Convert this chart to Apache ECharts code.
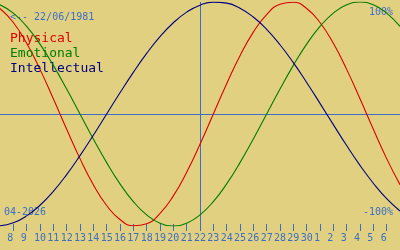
<!DOCTYPE html>
<html>
<head>
<meta charset="utf-8">
<script src="https://cdn.jsdelivr.net/npm/echarts@6/dist/echarts.min.js"></script>
<style>
html,body{margin:0;padding:0;background:#e0d080;}
#chart{width:400px;height:250px;}
</style>
</head>
<body>
<div id="chart"></div>
<script>
// Tick labels: days of month from 7 April 2026 to 7 May 2026
const days = [7,8,9,10,11,12,13,14,15,16,17,18,19,20,21,22,23,24,25,26,27,28,29,30,1,2,3,4,5,6,7];
const months = ['04','04','04','04','04','04','04','04','04','04','04','04','04','04','04','04','04','04','04','04','04','04','04','04','05','05','05','05','05','05','05'];
const markedDay = '04-22';
const birthText = '<-- 22/06/1981';
const monthText = '04-2026';
const seriesNames = ['Physical', 'Emotional', 'Intellectual'];
const seriesColors = ['#dc0000', '#007c00', '#000080'];

const physical = [0.9423,0.8170,0.6311,0.3984,0.1362,-0.1362,-0.3984,-0.6311,-0.8170,-0.9423,-0.9977,-0.9791,-0.8879,-0.7308,-0.5196,-0.2698,0,0.2698,0.5196,0.7308,0.8879,0.9791,0.9977,0.9423,0.8170,0.6311,0.3984,0.1362,-0.1362,-0.3984,-0.6311];
const emotional = [0.9749,0.9010,0.7818,0.6235,0.4339,0.2225,0,-0.2225,-0.4339,-0.6235,-0.7818,-0.9010,-0.9749,-1,-0.9749,-0.9010,-0.7818,-0.6235,-0.4339,-0.2225,0,0.2225,0.4339,0.6235,0.7818,0.9010,0.9749,1,0.9749,0.9010,0.7818];
const intellectual = [-0.9989,-0.9718,-0.9096,-0.8146,-0.6901,-0.5406,-0.3717,-0.1893,0,0.1893,0.3717,0.5406,0.6901,0.8146,0.9096,0.9718,0.9989,0.9898,0.9450,0.8660,0.7557,0.6182,0.4582,0.2817,0.0951,-0.0951,-0.2817,-0.4582,-0.6182,-0.7557,-0.8660];
const yTickLabels = ['100%', '-100%'];

const dates = days.map((d, i) => months[i] + '-' + (d < 10 ? '0' + d : '' + d));
const blue = '#3c6ec8';
const mono = 'DejaVu Sans Mono';
const lastIdx = dates.length - 1;
const inner = (i) => i > 0 && i < lastIdx;

const chart = echarts.init(document.getElementById('chart'), null, {renderer: 'canvas'});
const values = [physical, emotional, intellectual];

chart.setOption({
  animation: false,
  backgroundColor: '#e0d080',
  grid: [
    {left: 0, right: 0, top: 2, bottom: 24},
    {left: 0, right: 0, top: 223, height: 1}
  ],
  legend: {
    orient: 'vertical',
    left: 0,
    top: 27,
    padding: 5,
    icon: 'rect',
    itemWidth: 0,
    itemHeight: 0,
    itemGap: 2,
    selectedMode: false,
    textStyle: {fontFamily: mono, fontSize: 13},
    data: seriesNames.map((n, k) => ({name: n, textStyle: {color: seriesColors[k]}}))
  },
  xAxis: [
    {type: 'category', gridIndex: 0, data: dates, boundaryGap: false, show: false},
    {
      type: 'category', gridIndex: 1, data: dates, boundaryGap: false,
      axisLine: {show: false},
      axisTick: {show: true, length: 7, interval: inner, lineStyle: {color: blue, width: 1}},
      axisLabel: {
        interval: inner, margin: 9, color: blue, fontFamily: mono, fontSize: 10,
        align: 'left', padding: [0, 0, 0, -6],
        formatter: (v, i) => String(days[i])
      },
      splitLine: {show: false}
    }
  ],
  yAxis: [
    {type: 'value', gridIndex: 0, min: -1, max: 1, show: false},
    {type: 'value', gridIndex: 1, show: false}
  ],
  graphic: [
    {type: 'text', left: 10, top: 12, style: {text: birthText, fill: blue, font: '10px "DejaVu Sans Mono"'}},
    {type: 'text', right: 7, top: 7, style: {text: yTickLabels[0], fill: blue, font: '10px "DejaVu Sans Mono"'}},
    {type: 'text', right: 7, top: 207, style: {text: yTickLabels[1], fill: blue, font: '10px "DejaVu Sans Mono"'}},
    {type: 'text', left: 4, top: 207, style: {text: monthText, fill: blue, font: '10px "DejaVu Sans Mono"'}}
  ],
  series: values.map((arr, k) => {
    const s = {
      name: seriesNames[k],
      type: 'line',
      xAxisIndex: 0,
      yAxisIndex: 0,
      data: arr,
      smooth: true,
      showSymbol: false,
      symbol: 'none',
      lineStyle: {color: seriesColors[k], width: 1.1},
      itemStyle: {color: seriesColors[k]},
      z: 3 + k
    };
    if (k === 0) {
      s.markLine = {
        silent: true,
        symbol: 'none',
        label: {show: false},
        lineStyle: {color: blue, width: 1, type: 'solid'},
        data: [{xAxis: dates.indexOf(markedDay)}, {yAxis: 0}],
        z: 1
      };
    }
    return s;
  })
});
</script>
</body>
</html>
